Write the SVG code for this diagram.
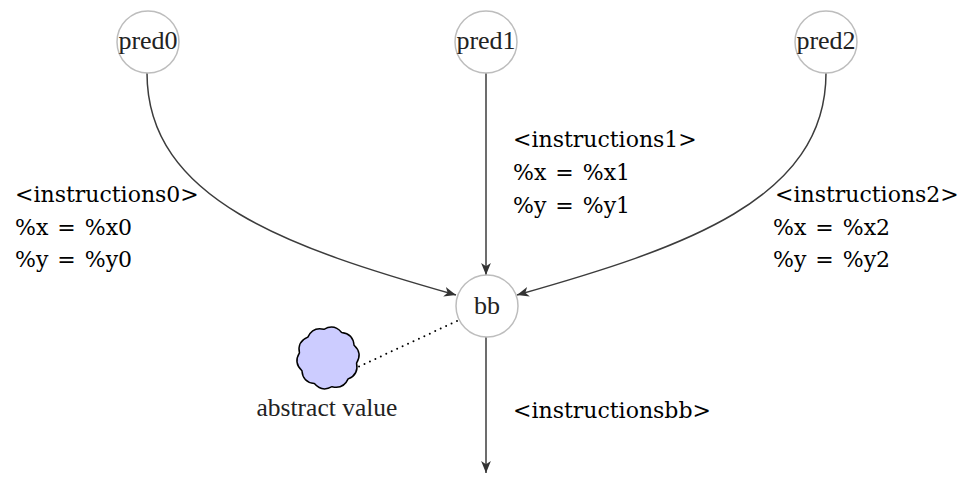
<svg xmlns="http://www.w3.org/2000/svg" width="959" height="485" viewBox="0 0 959 485">
<style>
.node{fill:#fff;stroke:#bdbdbd;stroke-width:1.5}
.nlabel{font-family:"Liberation Serif",serif;font-size:26px;fill:#222;text-anchor:middle}
.label{font-family:"DejaVu Serif",serif;font-size:22px;fill:#000}
.eq{word-spacing:2px}
.edge{fill:none;stroke:#3c3c3c;stroke-width:1.5}
.dotted{fill:none;stroke:#000;stroke-width:2;stroke-dasharray:0 6;stroke-linecap:round}
</style>
<defs>
<marker id="arr" viewBox="0 0 12 10" refX="11" refY="5" markerWidth="13" markerHeight="11" markerUnits="userSpaceOnUse" orient="auto">
<path d="M0,0.5 L11,5 L0,9.5 L3,5 Z" fill="#333"/>
</marker>
</defs>
<g id="connectors">
<path class="edge" d="M147,73 C147,200 290,248 456,295" marker-end="url(#arr)"/>
<path class="edge" d="M486,73 L486,275" marker-end="url(#arr)"/>
<path class="edge" d="M826,73 C826,200 683,248 517,295" marker-end="url(#arr)"/>
<path class="edge" d="M486,337 L486,473" marker-end="url(#arr)"/>
<path class="dotted" d="M457,321 L358,367"/>
</g>
<g id="pred0">
<circle class="node" cx="148" cy="42" r="31"/>
<text class="nlabel" x="148" y="49">pred0</text>
</g>
<g id="pred1">
<circle class="node" cx="486" cy="42" r="31"/>
<text class="nlabel" x="486" y="49">pred1</text>
</g>
<g id="pred2">
<circle class="node" cx="826" cy="42" r="31"/>
<text class="nlabel" x="826" y="49">pred2</text>
</g>
<g id="bb">
<circle class="node" cx="487" cy="306" r="31"/>
<text class="nlabel" x="487" y="314">bb</text>
</g>
<g id="abstract">
<path transform="translate(328,358)" fill="#ccccff" stroke="#000" stroke-width="1.5" d="M28.56,5.03 Q30.90,16.43 20.15,20.86 Q15.34,31.46 4.04,28.72 Q-6.08,34.47 -13.62,25.60 Q-25.18,24.31 -26.07,12.71 Q-34.66,4.87 -28.56,-5.03 Q-30.90,-16.43 -20.15,-20.86 Q-15.34,-31.46 -4.04,-28.72 Q6.08,-34.47 13.62,-25.60 Q25.18,-24.31 26.07,-12.71 Q34.66,-4.87 28.56,5.03 Z"/>
<text class="nlabel" x="327" y="416" style="font-size:25.5px">abstract value</text>
</g>
<g id="labels">
<text class="label" x="15" y="202">&lt;instructions0&gt;</text>
<text class="label eq" x="15" y="235">%x = %x0</text>
<text class="label eq" x="15" y="267">%y = %y0</text>
<text class="label" x="513" y="147">&lt;instructions1&gt;</text>
<text class="label eq" x="513" y="180">%x = %x1</text>
<text class="label eq" x="513" y="213">%y = %y1</text>
<text class="label" x="775" y="202">&lt;instructions2&gt;</text>
<text class="label eq" x="773" y="235">%x = %x2</text>
<text class="label eq" x="773" y="267">%y = %y2</text>
<text class="label" x="513" y="418">&lt;instructionsbb&gt;</text>
</g>
</svg>
